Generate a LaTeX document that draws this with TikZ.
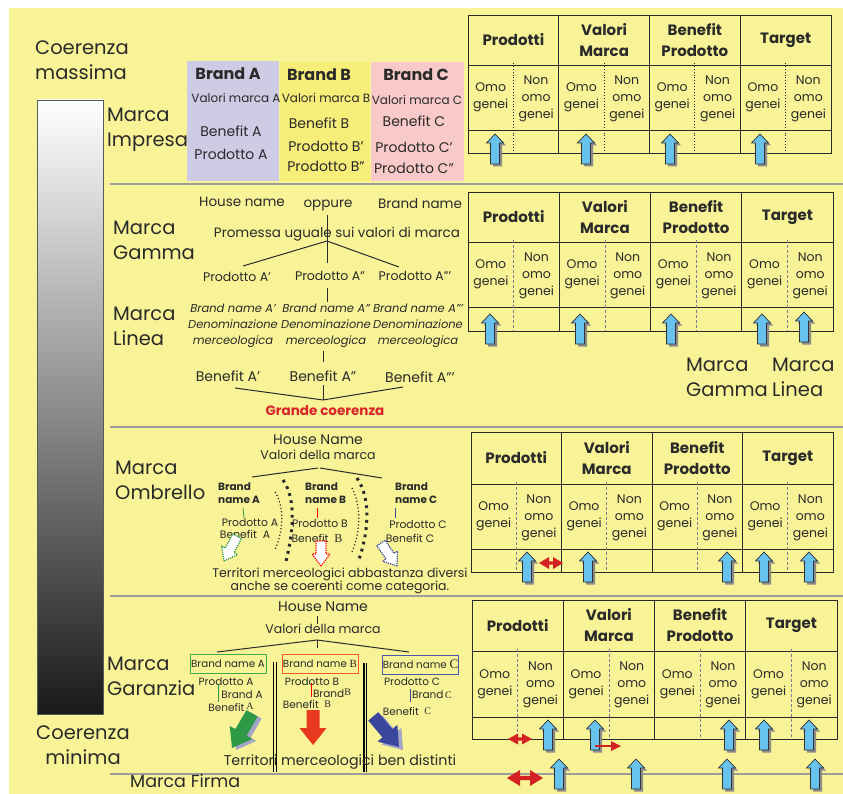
\documentclass[tikz,border=0pt]{standalone}
\usepackage{fontspec}
\setmainfont{Poppins}
\newfontfamily\serifl{Liberation Serif}
\usetikzlibrary{calc}

\definecolor{bgyellow}{HTML}{F7F396}
\definecolor{ink}{HTML}{2A2A2A}
\definecolor{sepgray}{HTML}{9C9C9C}
\definecolor{brandA}{HTML}{CECBE4}
\definecolor{brandB}{HTML}{F6EE78}
\definecolor{brandC}{HTML}{F8C9C9}
\definecolor{skyblue}{HTML}{67C3EE}
\definecolor{coerred}{HTML}{D8262C}
\definecolor{dblred}{HTML}{D42222}
\definecolor{grnA}{HTML}{2E9A48}
\definecolor{redB}{HTML}{E8381E}
\definecolor{bluC}{HTML}{3B479D}
\definecolor{boxgrn}{HTML}{3DAA4E}
\definecolor{boxred}{HTML}{EE5A2E}
\definecolor{boxblu}{HTML}{4A56A8}
\definecolor{dashgray}{HTML}{7C7C96}
\definecolor{shadowlav}{HTML}{A4A4C4}

\newcommand\fs[2]{\fontsize{#1}{#2}\selectfont}

\tikzset{
  txt/.style={inner sep=0pt, text=ink, align=center},
  big/.style={txt, font=\fs{19.5}{25}, align=left},
  thead/.style={txt, font=\bfseries\fs{15}{21}},
  tcell/.style={txt, font=\fs{12.5}{17}},
  tblline/.style={draw=ink, line width=0.9pt},
  dotsep/.style={draw=ink, line width=0.9pt, dotted},
  dashsep/.style={draw=dashgray, line width=0.6pt, dash pattern=on 3pt off 2pt},
  sepline/.style={draw=sepgray, line width=1.5pt},
  treeline/.style={draw=ink, line width=1pt},
  pics/blk/.style args={#1/#2/#3/#4}{code={
    \path[pic actions] (0,0) -- (#3,-#2) -- (#4,-#2) -- (#4,-#1) -- (-#4,-#1)
      -- (-#4,-#2) -- (-#3,-#2) -- cycle;}},
  pics/dbl/.style args={#1/#2/#3/#4}{code={
    \path[pic actions] (-#1/2,0) -- (-#1/2+#3,-#2/2) -- (-#1/2+#3,-#4) -- (#1/2-#3,-#4)
      -- (#1/2-#3,-#2/2) -- (#1/2,0) -- (#1/2-#3,#2/2) -- (#1/2-#3,#4)
      -- (-#1/2+#3,#4) -- (-#1/2+#3,#2/2) -- cycle;}},
}

% light blue upward block arrow with its grey shadow; tip at (#1,#2)
\newcommand\uparr[2]{%
  \pic[fill=black!45, rotate=180] at (#1+2.5,#2+2.5) {blk={30/9/8.5/4.5}};
  \pic[fill=skyblue, draw=black!80, line width=0.7pt, rotate=180] at (#1,#2) {blk={30/9/8.5/4.5}};}

% comparison table: #1 name, #2 left, #3 top, #4 column width, #5-#7 row heights, #8 divider style
\newcommand\drawtable[8]{%
  \begin{scope}[shift={(#2,#3)}]
    \draw[tblline] (0,0) rectangle (4*#4,#5+#6+#7);
    \draw[tblline] (0,#5) -- (4*#4,#5);
    \draw[tblline] (0,#5+#6) -- (4*#4,#5+#6);
    \foreach \k in {1,2,3} {\draw[tblline] (\k*#4,0) -- (\k*#4,#5+#6+#7);}
    \foreach \k/\t in {0/Prodotti,1/Valori\\Marca,2/Benefit\\Prodotto,3/Target} {
      \node[thead] (#1-h\k) at (\k*#4+#4/2,#5/2) {\t};
      \draw[#8] (\k*#4+#4/2,#5-2) -- (\k*#4+#4/2,#5+#6+#7);
      \node[tcell] (#1-o\k) at (\k*#4+#4/4,#5+#6/2) {Omo\\genei};
      \node[tcell] (#1-n\k) at (\k*#4+3*#4/4,#5+#6/2+1) {Non\\omo\\genei};
    }
  \end{scope}}

\begin{document}
\begin{tikzpicture}[x=1pt,y=-1pt]
\useasboundingbox (0,0) rectangle (843,794);
\clip (0,0) rectangle (843,794);
\fill[white] (0,0) rectangle (843,794);
\fill[bgyellow] (9,8) rectangle (843,794);

% section separators
\foreach \yy in {184,427,596,774} {\draw[sepline] (110,\yy) -- (843,\yy);}

% coherence scale
\shade[top color=white, bottom color=black!90] (37,100) rectangle (103,714);
\draw[black!65, line width=0.8pt] (37,100) rectangle (103,714);
\node[big, anchor=west] (cmax) at (35,60) {Coerenza\\massima};
\node[big, align=center] (cmin) at (83,745) {Coerenza\\minima};

% brand type labels
\node[big, anchor=west] (limpresa) at (107,130) {Marca\\Impresa};
\node[big, anchor=west] (lgamma) at (113,240) {Marca\\Gamma};
\node[big, anchor=west] (llinea) at (113,326) {Marca\\Linea};
\node[big, anchor=west] (lombrello) at (115,480) {Marca\\Ombrello};
\node[big, anchor=west] (lgaranzia) at (107,676) {Marca\\Garanzia};
\node[inner sep=0pt, text=ink, font=\fs{17.5}{20}, anchor=base west] (lfirma) at (130,787.5) {Marca Firma};
\node[big, anchor=west] (rgamma) at (686,377) {Marca\\Gamma};
\node[big, anchor=west] (rlinea) at (772,377) {Marca\\Linea};

% ---- Marca Impresa: three brands
\fill[brandA] (187,61) rectangle (279,181);
\fill[brandB] (280,62) rectangle (370,181);
\fill[brandC] (371,62) rectangle (464,181);
\tikzset{bhead/.style={txt, font=\bfseries\fs{16}{20}},
         bval/.style={txt, font=\fs{12}{14}},
         bitem/.style={txt, font=\fs{14}{16}}}
\node[bhead] (bA) at (228,74) {Brand A};
\node[bval]  (vA) at (236,98) {Valori marca A};
\node[bitem] (beA) at (231,131) {Benefit A};
\node[bitem] (pA) at (231,154) {Prodotto A};
\node[bhead] (bB) at (319,75) {Brand B};
\node[bval]  (vB) at (326,98) {Valori marca B};
\node[bitem] (beB) at (319,123) {Benefit B};
\node[bitem] (pB1) at (326,146) {Prodotto B'};
\node[bitem] (pB2) at (326,166) {Prodotto B''};
\node[bhead] (bC) at (416,75) {Brand C};
\node[bval]  (vC) at (417,100) {Valori marca C};
\node[bitem] (beC) at (414,121) {Benefit C};
\node[bitem] (pC1) at (414,147) {Prodotto C'};
\node[bitem] (pC2) at (414,168) {Prodotto C''};

% ---- Marca Gamma / Linea tree
\tikzset{gtxt/.style={txt, font=\fs{13.5}{16}},
         gprod/.style={txt, font=\fs{12.5}{15}},
         gital/.style={txt, font=\itshape\fs{11.5}{16}}}
\node[gtxt] (hn2) at (242,202) {House name};
\node[gtxt] (opp) at (328,205) {oppure};
\node[gtxt] (bn2) at (420,204) {Brand name};
\node[gtxt] (prom) at (337,234) {Promessa uguale sui valori di marca};
\coordinate (j1) at (327,241);
\draw[treeline] (327,215) -- (j1);
\node[gprod] (pa1) at (237,277) {Prodotto A'};
\node[gprod] (pa2) at (330,276) {Prodotto A''};
\node[gprod] (pa3) at (415,276) {Prodotto A'''};
\draw[treeline] (j1) -- (243,266);
\draw[treeline] (j1) -- (327,263);
\draw[treeline] (j1) -- (399,267);
\node[gital] (bl1) at (233,326) {Brand name A'\\Denominazione\\merceologica};
\node[gital] (bl2) at (326,326) {Brand name A''\\Denominazione\\merceologica};
\node[gital] (bl3) at (418,326) {Brand name A'''\\Denominazione\\merceologica};
\draw[treeline] (327,288) -- (327,302);
\draw[treeline] (323,351) -- (323,362);
\node[gtxt, font=\fs{14}{16}] (be1) at (228,376) {Benefit A'};
\node[gtxt, font=\fs{14}{16}] (be2) at (323,376) {Benefit A''};
\node[gtxt, font=\fs{14}{16}] (be3) at (420,377) {Benefit A'''};
\coordinate (j2) at (323,400);
\draw[treeline] (235,388) -- (j2);
\draw[treeline] (323,385) -- (j2);
\draw[treeline] (403,387) -- (j2);
\node[txt, font=\bfseries\fs{13.5}{16}, text=coerred] (gc) at (325,411) {Grande coerenza};

% ---- Marca Ombrello
\tikzset{otxt/.style={txt, font=\fs{10.8}{13}},
         obrand/.style={txt, font=\bfseries\fs{10.5}{13}, align=left}}
\node[txt, font=\fs{14}{16}] (hn3) at (318,440) {House Name};
\node[txt, font=\fs{12.5}{15}] (vm3) at (318,455) {Valori della marca};
\draw[treeline] (252,477) -- (318,468);
\draw[treeline] (320,468) -- (382,478);
\node[obrand, anchor=west] (obA) at (218,493) {Brand\\name A};
\node[obrand, anchor=west] (obB) at (305,493) {Brand\\name B};
\node[obrand, anchor=west] (obC) at (395,493) {Brand\\name C};
\draw[grnA, line width=0.8pt] (243,508) -- (244,518);
\draw[red, line width=0.8pt] (317,508) -- (317,518);
\draw[bluC, line width=0.8pt] (395,508) -- (395,518);
\node[otxt] (opA) at (250,523) {Prodotto A};
\node[otxt] (obeA) at (245,534) {Benefit\ \ A};
\node[otxt] (opB) at (320,524) {Prodotto B};
\node[otxt] (obeB) at (317,538) {Benefit\ \ {\serifl\fs{12}{13}B}};
\node[otxt] (opC) at (418,525) {Prodotto C};
\node[otxt] (obeC) at (410,538) {Benefit C};
% dotted borders between product territories
\draw[ink, line width=1.2pt, dash pattern=on 1.2pt off 2.2pt] (275,492) .. controls (284,505) and (284,530) .. (275,550);
\draw[ink, line width=3pt, dash pattern=on 2.8pt off 4.5pt] (283,480) .. controls (297,500) and (293,535) .. (285,565);
\draw[ink, line width=1.2pt, dash pattern=on 1.2pt off 2.2pt] (352,488) .. controls (361,505) and (361,530) .. (352,552);
\draw[ink, line width=3pt, dash pattern=on 2.8pt off 4.5pt] (357,478) .. controls (372,500) and (368,535) .. (358,562);
% outlined arrows
\pic[fill=white, draw=grnA, line width=1.2pt, densely dotted, rotate=-28] at (224,561) {blk={28/12/9/5}};
\pic[fill=white, draw=red, line width=1.2pt, densely dotted] at (321,566) {blk={25/12/9/5}};
\pic[fill=white, draw=bluC, line width=1.2pt, densely dotted, rotate=35] at (397,566) {blk={28/12/9/5}};
\node[txt, font=\fs{12.5}{13}] (terr3) at (340,581) {Territori merceologici abbastanza diversi\\anche se coerenti come categoria.};

% ---- Marca Garanzia
\tikzset{gbox/.style={txt, font=\fs{10.3}{12}, draw, line width=1pt, minimum height=19pt},
         gsm/.style={txt, font=\fs{10.5}{12}}}
\node[txt, font=\fs{14}{16}] (hn4) at (323,607) {House Name};
\node[txt, font=\fs{12.5}{15}] (vm4) at (323,629) {Valori della marca};
\draw[treeline] (317,616) -- (317,624);
\coordinate (j4) at (317,640);
\draw[treeline] (j4) -- (317,648);
\draw[treeline] (j4) -- (217,652);
\draw[treeline] (j4) -- (409,652);
\node[gbox, draw=boxgrn, minimum width=76pt] (gbA) at (228,663.5) {Brand name A};
\node[gbox, draw=boxred, minimum width=76pt] (gbB) at (320,663.5) {Brand name {\serifl\fs{11}{12}B}};
\node[gbox, draw=boxblu, minimum width=73pt] (gbC) at (420.5,664.5) {Brand name {\serifl\fs{13}{12}C}};
\node[gsm] (gpA) at (226,682) {Prodotto A};
\draw[grnA, line width=0.8pt] (218,684) -- (218,702);
\node[gsm] (gbrA) at (242,695) {Brand A};
\node[gsm] (gbeA) at (231,707) {Benefit\,\raisebox{2pt}{\serifl\fs{10}{10}A}};
\node[gsm] (gpB) at (312,682) {Prodotto B};
\draw[red, line width=0.8pt] (311,683) -- (311,697);
\node[gsm] (gbrB) at (332,693) {Brand\raisebox{2pt}{\serifl\fs{10}{10}B}};
\node[gsm] (gbeB) at (307,705) {Benefit\ \ \raisebox{1pt}{\serifl\fs{10}{10}B}};
\node[gsm] (gpC) at (412,682) {Prodotto C};
\draw[bluC, line width=0.8pt] (410,689) -- (410,702);
\node[gsm] (gbrC) at (432,695) {Brand\,{\serifl\fs{10}{10}C}};
\node[gsm] (gbeC) at (407,712) {Benefit\ \ \raisebox{1pt}{\serifl\fs{10}{10}C}};
% territory boundaries
\draw[black, line width=0.9pt] (273,662) -- (273,772);
\draw[black, line width=0.9pt] (276.5,662) -- (276.5,772);
\draw[black, line width=1.3pt] (364,663) -- (364,772);
\draw[black, line width=1.3pt] (366.5,663) -- (366.5,772);
% solid arrows
\pic[fill=shadowlav, rotate=-30] at (236,750) {blk={40/18/13/6.5}};
\pic[fill=grnA, rotate=-30] at (232,748) {blk={40/18/13/6.5}};
\pic[fill=redB] at (313,745) {blk={35/17/13.5/6.5}};
\pic[fill=shadowlav, rotate=40] at (403,750) {blk={40/18/13/6.5}};
\pic[fill=bluC, rotate=40] at (399,747) {blk={40/18/13/6.5}};
\node[txt, font=\fs{14.2}{16}] (terr4) at (340,762) {Territori merceologici ben distinti};

% ---- tables
\drawtable{ta}{468}{15}{90.75}{50}{65}{23}{dotsep}
\drawtable{tb}{468}{192}{91.25}{50}{65}{24}{dashsep}
\drawtable{tc}{471}{432}{90.5}{52}{65}{23}{dashsep}
\drawtable{td}{472}{600}{91.25}{51}{66}{22}{dashsep}

% arrows under the tables
\foreach \ax in {495,586,670,760} {\uparr{\ax}{134}}
\foreach \ax in {490,580,671,762} {\uparr{\ax}{314}}
\uparr{804}{312}
\foreach \ax in {527,588,727,764,809} {\uparr{\ax}{552}}
\foreach \ax in {548,595,729,764,809} {\uparr{\ax}{720}}
\foreach \ax in {559,636,727,815} {\uparr{\ax}{759}}

% red shift markers
\pic[fill=dblred] at (551,563) {dbl={24/12/10/1.6}};
\pic[fill=dblred] at (520,739) {dbl={24/11/10/1.6}};
\pic[fill=dblred] at (525,778) {dbl={36/16/13/2.2}};
\coordinate (rs) at (595,746);
\coordinate (re) at (621,746);
\draw[dblred, line width=2.2pt] (rs) -- (612,746);
\fill[dblred] (re) -- (611,741) -- (611,751) -- cycle;
\end{tikzpicture}
\end{document}
